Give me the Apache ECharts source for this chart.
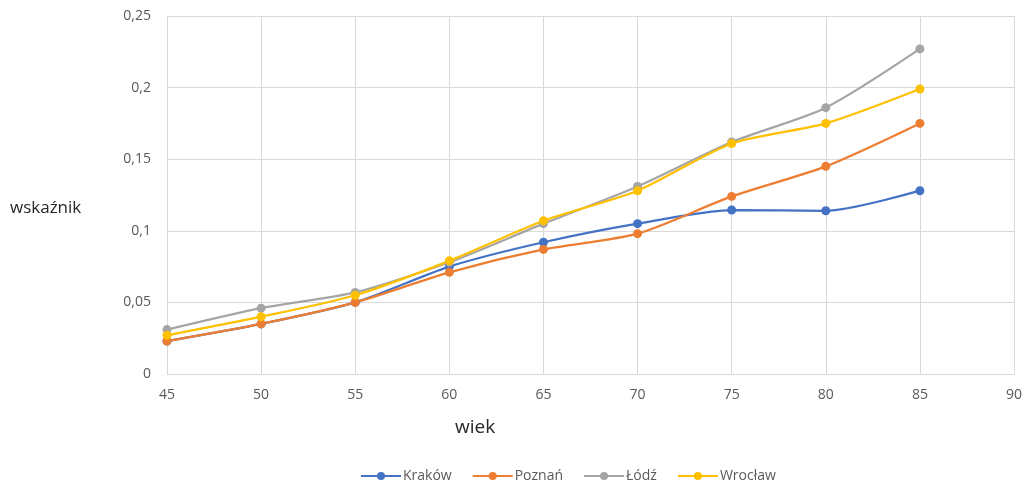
<!DOCTYPE html>
<html>
<head>
<meta charset="utf-8">
<script src="https://cdn.jsdelivr.net/npm/echarts@6/dist/echarts.min.js"></script>
<style>
  html, body { margin: 0; padding: 0; background: #fff; }
  #chart { width: 1027px; height: 484px; }
</style>
</head>
<body>
<div id="chart"></div>
<script>
// Age groups (x) and index values per city
const ages = [45, 50, 55, 60, 65, 70, 75, 80, 85];
const krakow  = [0.023, 0.035, 0.050, 0.075, 0.092, 0.105, 0.1145, 0.114, 0.128];
const poznan  = [0.023, 0.035, 0.050, 0.071, 0.087, 0.098, 0.124, 0.145, 0.175];
const lodz    = [0.031, 0.046, 0.057, 0.078, 0.105, 0.131, 0.162, 0.186, 0.227];
const wroclaw = [0.027, 0.040, 0.055, 0.079, 0.107, 0.128, 0.161, 0.175, 0.199];

const seriesDefs = [
  { name: 'Kraków',  data: krakow,  color: '#4472C4' },
  { name: 'Poznań',  data: poznan,  color: '#ED7D31' },
  { name: 'Łódź',    data: lodz,    color: '#A5A5A5' },
  { name: 'Wrocław', data: wroclaw, color: '#FFC000' }
];

const font = '"Open Sans", "Noto Sans", sans-serif';
const chart = echarts.init(document.getElementById('chart'), null, { renderer: 'canvas' });

chart.setOption({
  animation: false,
  backgroundColor: '#fff',
  textStyle: { fontFamily: font },
  grid: { left: 167, right: 13, top: 16, bottom: 110, containLabel: false },
  xAxis: {
    type: 'value', min: 45, max: 90, interval: 5,
    axisLine: { show: true, lineStyle: { color: '#d9d9d9' } },
    axisTick: { show: false },
    splitLine: { show: true, lineStyle: { color: '#d9d9d9', width: 1 } },
    axisLabel: { color: '#595959', fontSize: 14, margin: 14, fontFamily: font }
  },
  yAxis: {
    type: 'value', min: 0, max: 0.25, interval: 0.05,
    axisLine: { show: true, lineStyle: { color: '#d9d9d9' } },
    axisTick: { show: false },
    splitLine: { show: true, lineStyle: { color: '#d9d9d9', width: 1 } },
    axisLabel: {
      color: '#595959', fontSize: 14, margin: 16, fontFamily: font,
      formatter: v => String(Math.round(v * 100) / 100).replace('.', ',')
    }
  },
  legend: {
    top: 464, left: 355,
    itemWidth: 40, itemHeight: 10, itemGap: 20,
    textStyle: { color: '#595959', fontSize: 14, fontFamily: font, padding: [0, 0, 0, -3] },
    data: seriesDefs.map(s => s.name)
  },
  graphic: [
    { type: 'text', left: 10, top: 200,
      style: { text: 'wskaźnik', fill: '#262626', font: '17px ' + font } },
    { type: 'text', left: 455, top: 418,
      style: { text: 'wiek', fill: '#262626', font: '19px ' + font } }
  ],
  series: seriesDefs.map(s => ({
    name: s.name,
    type: 'line',
    smooth: 0.25,
    data: ages.map((a, i) => [a, s.data[i]]),
    symbol: 'circle',
    symbolSize: 9,
    color: s.color,
    lineStyle: { width: 2.25, color: s.color },
    itemStyle: { color: s.color }
  }))
});
</script>
</body>
</html>
